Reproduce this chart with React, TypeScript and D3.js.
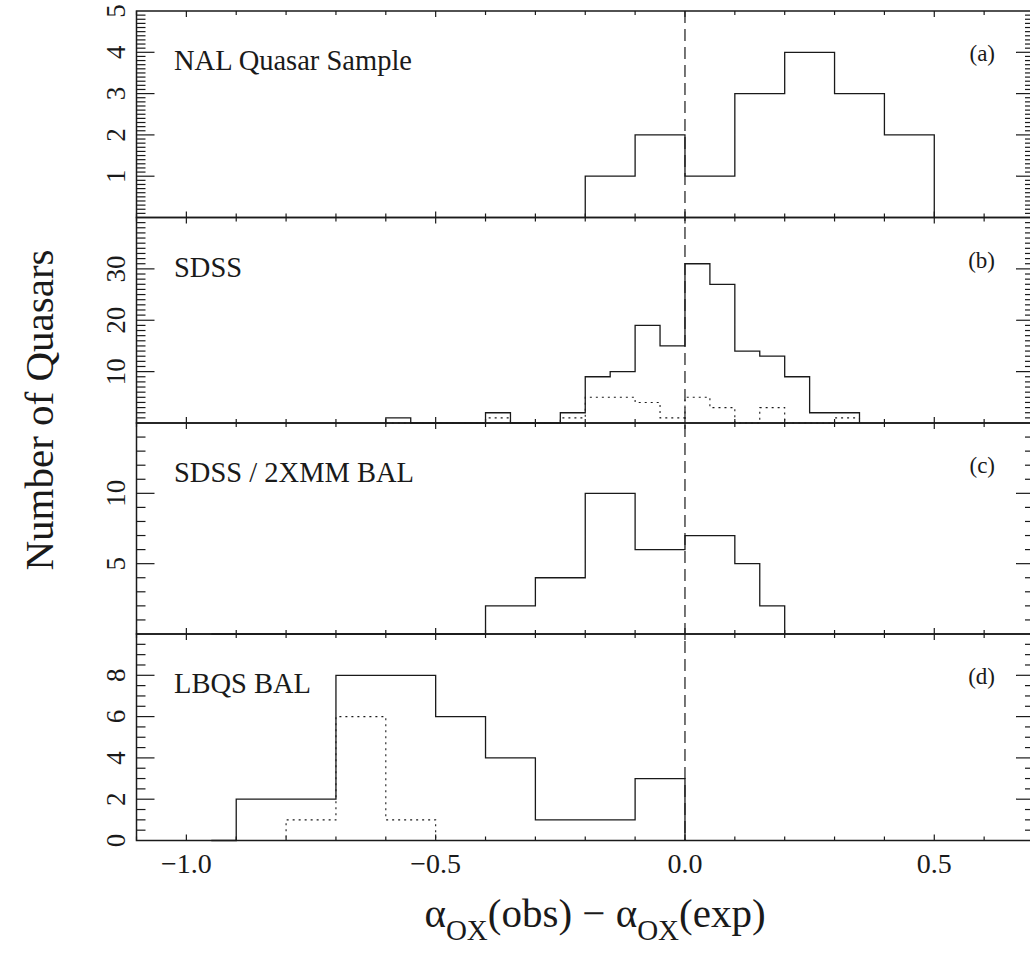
import React, { useEffect, useRef } from 'react';
import * as d3 from 'd3';

// bin edges and counts per panel
const edgesA = [-0.2, -0.1, 0, 0.1, 0.2, 0.3, 0.4, 0.5];
const countsA = [1, 2, 1, 3, 4, 3, 2];

const edgesB = [-0.6, -0.55, -0.5, -0.45, -0.4, -0.35, -0.3, -0.25, -0.2, -0.15, -0.1, -0.05, 0, 0.05, 0.1, 0.15, 0.2, 0.25, 0.3, 0.35];
const countsB = [1, 0, 0, 0, 2, 0, 0, 2, 9, 10, 19, 15, 31, 27, 14, 13, 9, 2, 2];
const dottedB = [0, 0, 0, 0, 1, 0, 0, 1, 5, 5, 4, 1, 5, 3, 0, 3, 0, 0, 1];

const edgesC = [-0.95, -0.4, -0.3, -0.2, -0.1, 0, 0.1, 0.15, 0.2];
const countsC = [0, 2, 4, 10, 6, 7, 5, 2];

const edgesD = [-0.95, -0.9, -0.8, -0.7, -0.6, -0.5, -0.4, -0.3, -0.2, -0.1, 0];
const countsD = [0, 2, 2, 8, 8, 6, 4, 1, 1, 3];
const dottedD = [0, 0, 1, 6, 1, 0, 0, 0, 0, 0];

const panelNames = ['NAL Quasar Sample', 'SDSS', 'SDSS / 2XMM BAL', 'LBQS BAL'];
const panelTags = ['(a)', '(b)', '(c)', '(d)'];
const yMaxes = [5, 40, 15, 10];
const yMajor = [[1, 2, 3, 4, 5], [10, 20, 30], [5, 10], [0, 2, 4, 6, 8]];
const yMinorStep = [0.1, 1, 1, 0.5];
const xTickLabels = [-1.0, -0.5, 0.0, 0.5];

const FONT = '"Liberation Serif", "Times New Roman", serif';
const INK = '#1a1a1a';

const App = () => {
  const svgRef = useRef<SVGSVGElement>(null);

  useEffect(() => {
    const svg = d3.select(svgRef.current);
    svg.selectAll('*').remove();

    const left = 136.5;
    const right = 1034;
    const bounds = [11, 217.5, 423, 634, 840.5];

    const x = d3.scaleLinear().domain([-1.1, 0.7]).range([left, right]);

    const panels = [
      { solid: [edgesA, countsA] },
      { solid: [edgesB, countsB], dotted: [edgesB, dottedB] },
      { solid: [edgesC, countsC] },
      { solid: [edgesD, countsD], dotted: [edgesD, dottedD] },
    ];

    const stepPath = (edges: number[], counts: number[], y: d3.ScaleLinear<number, number>) => {
      const pts: [number, number][] = [[edges[0], 0]];
      counts.forEach((c, i) => pts.push([edges[i], c]));
      pts.push([edges[edges.length - 1], 0]);
      return d3.line<[number, number]>()
        .x(d => x(d[0]))
        .y(d => y(d[1]))
        .curve(d3.curveStepAfter)(pts);
    };

    const xMinor = d3.range(-11, 8).map(i => i / 10);

    panels.forEach((p, k) => {
      const top = bounds[k];
      const bottom = bounds[k + 1];
      const y = d3.scaleLinear().domain([0, yMaxes[k]]).range([bottom, top]);
      const g = svg.append('g');

      // histograms
      g.append('path')
        .attr('d', stepPath(p.solid[0], p.solid[1], y))
        .attr('fill', 'none')
        .attr('stroke', INK)
        .attr('stroke-width', 1.3);
      if (p.dotted) {
        g.append('path')
          .attr('d', stepPath(p.dotted[0], p.dotted[1], y))
          .attr('fill', 'none')
          .attr('stroke', INK)
          .attr('stroke-width', 1.1)
          .attr('stroke-dasharray', '2,4');
      }

      // frame
      g.append('rect')
        .attr('x', left).attr('y', top)
        .attr('width', right - left).attr('height', bottom - top)
        .attr('fill', 'none').attr('stroke', INK).attr('stroke-width', 1.5);

      // x ticks top & bottom (inward)
      xMinor.forEach(v => {
        const major = Math.abs(v * 2 - Math.round(v * 2)) < 1e-6;
        const len = major ? 6 : 4;
        g.append('line').attr('x1', x(v)).attr('x2', x(v)).attr('y1', bottom).attr('y2', bottom - len)
          .attr('stroke', INK).attr('stroke-width', 1.2);
        g.append('line').attr('x1', x(v)).attr('x2', x(v)).attr('y1', top).attr('y2', top + len)
          .attr('stroke', INK).attr('stroke-width', 1.2);
      });

      // y minor / major ticks both sides
      const n = Math.round(yMaxes[k] / yMinorStep[k]);
      for (let i = 1; i < n; i++) {
        const v = i * yMinorStep[k];
        const major = yMajor[k].some(m => Math.abs(m - v) < 1e-6);
        const len = major ? 18 : 9;
        g.append('line').attr('x1', left).attr('x2', left + len).attr('y1', y(v)).attr('y2', y(v))
          .attr('stroke', INK).attr('stroke-width', 1.2);
        g.append('line').attr('x1', right).attr('x2', right - len).attr('y1', y(v)).attr('y2', y(v))
          .attr('stroke', INK).attr('stroke-width', 1.2);
      }

      // y tick labels, rotated
      yMajor[k].forEach(v => {
        g.append('text')
          .attr('transform', `translate(125,${y(v)}) rotate(-90)`)
          .attr('text-anchor', 'middle')
          .attr('font-family', FONT)
          .attr('font-size', 27)
          .attr('fill', INK)
          .text(v);
      });

      g.append('text')
        .attr('x', 174).attr('y', top + 59)
        .attr('font-family', FONT).attr('font-size', 28.5).attr('fill', INK)
        .text(panelNames[k]);
      g.append('text')
        .attr('x', 995).attr('y', top + 50)
        .attr('text-anchor', 'end')
        .attr('font-family', FONT).attr('font-size', 23).attr('fill', INK)
        .text(panelTags[k]);
    });

    // dashed zero line
    svg.append('line')
      .attr('x1', x(0)).attr('x2', x(0))
      .attr('y1', bounds[0]).attr('y2', bounds[4])
      .attr('stroke', INK).attr('stroke-width', 1.2)
      .attr('stroke-dasharray', '12,6');

    // x tick labels
    xTickLabels.forEach(v => {
      svg.append('text')
        .attr('x', x(v)).attr('y', 873)
        .attr('text-anchor', 'middle')
        .attr('font-family', FONT).attr('font-size', 28).attr('fill', INK)
        .text(d3.format('.1f')(v).replace('-', '\u2212'));
    });

    // axis titles
    const xt = svg.append('text')
      .attr('x', 595).attr('y', 927)
      .attr('text-anchor', 'middle')
      .attr('font-family', FONT).attr('font-size', 41).attr('fill', INK);
    xt.append('tspan').text('\u03b1');
    xt.append('tspan').attr('font-size', 29).attr('dy', 13).text('OX');
    xt.append('tspan').attr('dy', -13).text('(obs) \u2212 \u03b1');
    xt.append('tspan').attr('font-size', 29).attr('dy', 13).text('OX');
    xt.append('tspan').attr('dy', -13).text('(exp)');

    svg.append('text')
      .attr('transform', 'translate(53,410) rotate(-90)')
      .attr('text-anchor', 'middle')
      .attr('font-family', FONT).attr('font-size', 41).attr('fill', INK)
      .text('Number of Quasars');
  }, []);

  return (
    <svg
      ref={svgRef}
      width={1030}
      height={953}
      style={{ position: 'absolute', left: 0, top: 0, background: '#fff' }}
    />
  );
};

export default App;
